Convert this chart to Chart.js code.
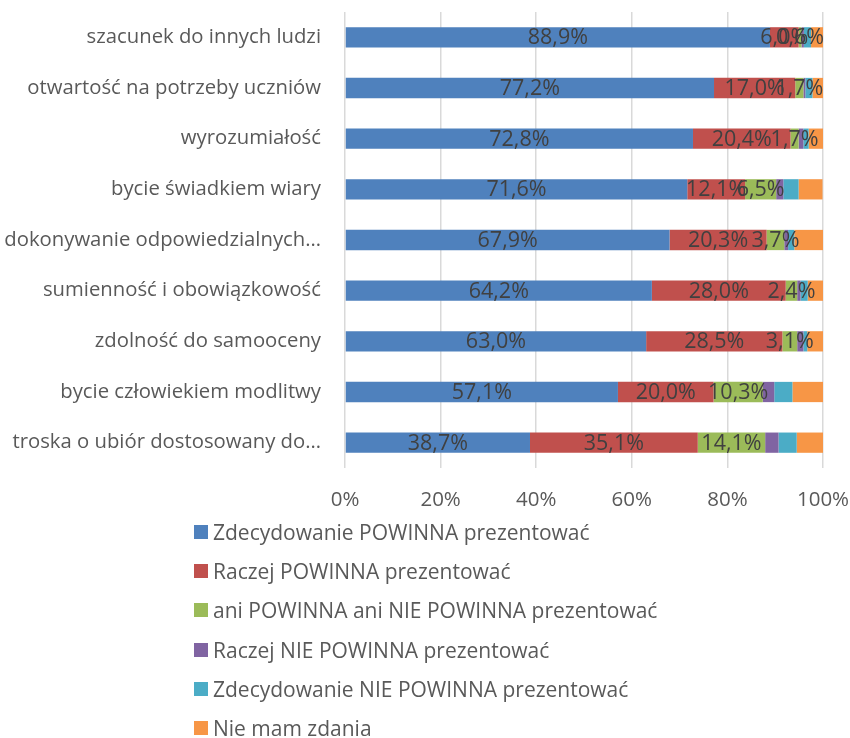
<!DOCTYPE html>
<html><head><meta charset="utf-8">
<script src="https://cdn.jsdelivr.net/npm/chart.js@4"></script>
<style>
html,body{margin:0;padding:0;background:#fff;}
#wrap{position:relative;width:850px;height:738px;overflow:hidden;}
#cw{position:absolute;left:0;top:0;width:850px;height:520px;}
#legend{position:absolute;left:194px;top:512px;font-family:"Open Sans",sans-serif;font-size:21px;color:#595959;}
.li{display:flex;align-items:center;height:39.3px;white-space:nowrap;}
.sw{width:14px;height:14px;margin-right:5px;flex:none;}
</style></head>
<body><div id="wrap"><div id="cw"><canvas id="c"></canvas></div><div id="legend"></div></div>
<script>
const categories = ["szacunek do innych ludzi","otwartość na potrzeby uczniów","wyrozumiałość","bycie świadkiem wiary","dokonywanie odpowiedzialnych…","sumienność i obowiązkowość","zdolność do samooceny","bycie człowiekiem modlitwy","troska o ubiór dostosowany do…"];
const seriesNames = ["Zdecydowanie POWINNA prezentować","Raczej POWINNA prezentować","ani POWINNA ani NIE POWINNA prezentować","Raczej NIE POWINNA prezentować","Zdecydowanie NIE POWINNA prezentować","Nie mam zdania"];
const zdecPowinna = [88.9,77.2,72.8,71.6,67.9,64.2,63.0,57.1,38.7];
const raczejPowinna = [6.0,17.0,20.4,12.1,20.3,28.0,28.5,20.0,35.1];
const aniAni = [0.6,1.7,1.7,6.5,3.7,2.4,3.1,10.3,14.1];
const raczejNie = [0.5,0.4,1.0,1.5,0.8,0.7,1.3,2.4,2.8];
const zdecNie = [1.5,1.5,1.1,3.2,1.3,1.5,0.8,3.8,3.8];
const nieMamZdania = [2.5,2.2,3.0,5.0,6.0,3.2,3.3,6.4,5.5];
const xTicks = [0,20,40,60,80,100];
const colors = ["#4F81BD","#C0504D","#9BBB59","#8064A2","#4BACC6","#F79646"];
const seriesData = [zdecPowinna,raczejPowinna,aniAni,raczejNie,zdecNie,nieMamZdania];

const FONT = '"Open Sans", sans-serif';
const fmt = v => v.toFixed(1).replace('.', ',') + '%';

const labelPlugin = {
  id: 'barLabels',
  afterDatasetsDraw(chart) {
    const ctx = chart.ctx;
    ctx.save();
    ctx.font = '21.5px ' + FONT;
    ctx.fillStyle = '#404040';
    ctx.textAlign = 'center';
    ctx.textBaseline = 'middle';
    for (let d = 0; d < 3; d++) {
      const meta = chart.getDatasetMeta(d);
      meta.data.forEach((el, i) => {
        const v = chart.data.datasets[d].data[i];
        const p = el.getProps(['x','y','base'], true);
        ctx.fillText(fmt(v), (p.x + p.base) / 2, p.y + 1);
      });
    }
    ctx.restore();
  }
};

const chart = new Chart(document.getElementById('c'), {
  type: 'bar',
  data: {
    labels: categories,
    datasets: seriesNames.map((n, i) => ({
      label: n, data: seriesData[i], backgroundColor: colors[i],
      barPercentage: 0.4, categoryPercentage: 1.0, borderWidth: 0
    }))
  },
  options: {
    indexAxis: 'y',
    responsive: true, maintainAspectRatio: false, animation: false,
    layout: { padding: { top: 12, right: 27, left: 0, bottom: 0 } },
    plugins: { legend: { display: false }, tooltip: { enabled: false } },
    scales: {
      x: {
        stacked: true, min: 0, max: 100,
        afterBuildTicks: s => { s.ticks = xTicks.map(v => ({ value: v })); },
        afterFit: s => { s.height = 52; s.paddingLeft = 0; s.paddingRight = 0; },
        ticks: { callback: v => v + '%', color: '#595959', font: { family: FONT, size: 20.5 }, padding: 20, maxRotation: 0 },
        grid: { color: '#d9d9d9', lineWidth: 1.5, drawTicks: false },
        border: { display: false }
      },
      y: {
        stacked: true,
        afterFit: s => { s.width = 345; s.paddingTop = 0; s.paddingBottom = 0; },
        ticks: { color: '#595959', font: { family: FONT, size: 20.3 }, padding: 24, autoSkip: false },
        grid: { display: false, drawTicks: false },
        border: { display: false }
      }
    }
  },
  plugins: [labelPlugin]
});

const lg = document.getElementById('legend');
seriesNames.forEach((n, i) => {
  const d = document.createElement('div'); d.className = 'li';
  const s = document.createElement('span'); s.className = 'sw'; s.style.background = colors[i];
  const t = document.createElement('span'); t.textContent = n;
  d.appendChild(s); d.appendChild(t); lg.appendChild(d);
});
</script></body></html>
